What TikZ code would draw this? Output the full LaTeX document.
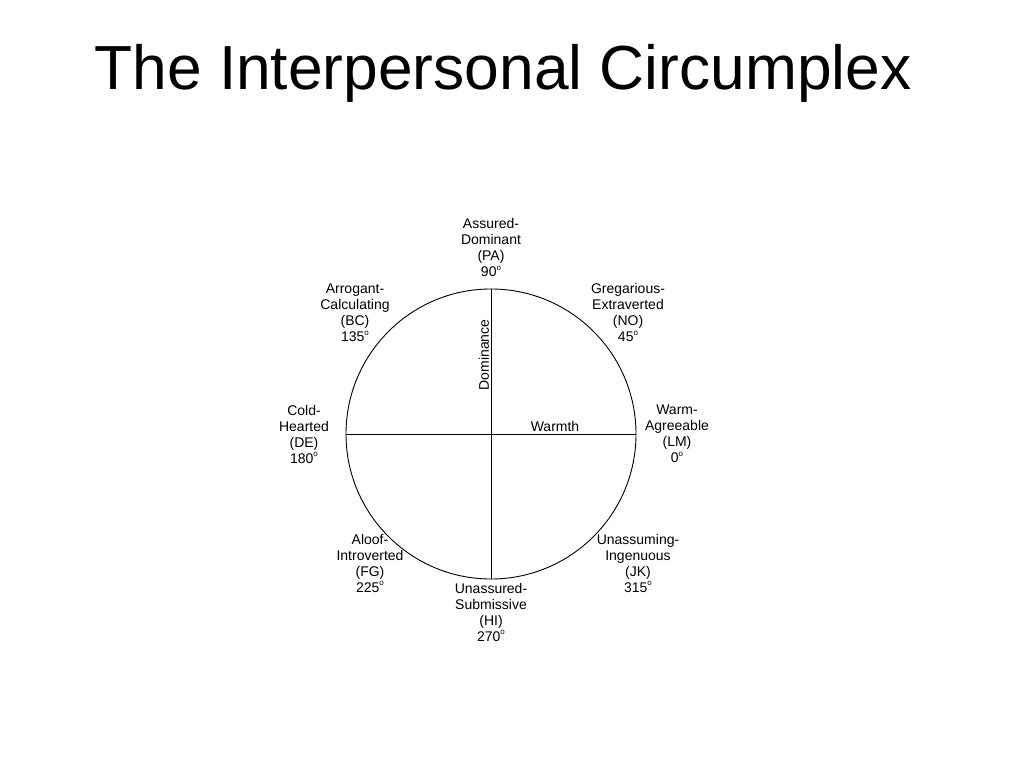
\documentclass[tikz,border=0pt]{standalone}
\usepackage{fontspec}
\setmainfont{Liberation Sans}
\usetikzlibrary{positioning}

\newcommand{\degsup}{\raisebox{6.5pt}{\fontsize{8}{8}\selectfont o}}

\tikzset{
  octant/.style={align=center, font=\fontsize{14}{16}\selectfont, inner sep=0pt},
  axislbl/.style={font=\fontsize{14}{16}\selectfont, inner sep=1.5pt}
}

\begin{document}
\begin{tikzpicture}[x=1pt, y=1pt, line width=0.9pt]
      \useasboundingbox (0,0) rectangle (1024,768);

      % Title
      \node[font=\fontsize{62.3}{70}\selectfont, inner sep=0pt] (title) at (503,695) {The Interpersonal Circumplex};

      % Circle and axes
      \node[circle, draw, minimum size=290pt, inner sep=0pt] (circ) at (491,334) {};
      \draw (circ.north) -- (circ.south);
      \draw (circ.west) -- (circ.east);

      \node[axislbl, rotate=90, anchor=south] (dom) at (491,413) {Dominance};
      \node[axislbl, anchor=south] (warm) at (555,334) {Warmth};

      % Octant labels, counter-clockwise from 0 degrees
      \node[octant] (lm) at (677,334) {Warm-\\Agreeable\\(LM)\\0\degsup};
      \node[octant] (no) at (628,455) {Gregarious-\\Extraverted\\(NO)\\45\degsup};
      \node[octant] (pa) at (491,520) {Assured-\\Dominant\\(PA)\\90\degsup};
      \node[octant] (bc) at (355,455) {Arrogant-\\Calculating\\(BC)\\135\degsup};
      \node[octant] (de) at (304,334) {Cold-\\Hearted\\(DE)\\180\degsup};
      \node[octant] (fg) at (370,205) {Aloof-\\Introverted\\(FG)\\225\degsup};
      \node[octant] (hi) at (491,156) {Unassured-\\Submissive\\(HI)\\270\degsup};
      \node[octant] (jk) at (638,205) {Unassuming-\\Ingenuous\\(JK)\\315\degsup};
\end{tikzpicture}
\end{document}
